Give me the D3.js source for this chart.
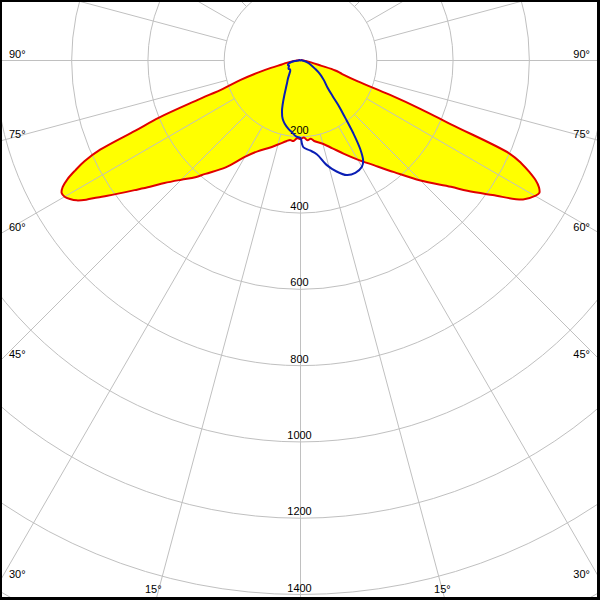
<!DOCTYPE html>
<html><head><meta charset="utf-8">
<script src="https://cdn.jsdelivr.net/npm/d3@7"></script>
<style>html,body{margin:0;padding:0;background:#fff;} svg{display:block;}</style>
</head><body>
<svg id="chart" width="600" height="600"></svg>
<script>
// C0-C180 plane (red outline, yellow fill): gamma angle in degrees (0 = straight down), intensity in cd
const redAngles = [-180,-150,-120,-100,-90,-85,-80,-78,-76,-74,-72,-70,-69,-68,-67,-66,-65,-64,-63,-62,-61,-60,-59,-58,-57,-56,-55,-52,-50,-48,-45,-42,-40,-35,-30,-25,-20,-15,-10,-7.5,-5,-2.5,0,2.5,5,7.5,10,15,20,25,30,35,40,45,50,52,55,58,60,61,62,63,64,65,66,67,68,69,70,72,74,76,80,85,90,100,120,150,180];
const redValues = [0,0,2,5,10,20,40,50,80,118,165,215,290,400,470,575,625,657,686,706,716,714,705,692,670,642,618,552,515,480,442,412,388,342,292,262,244,228,215,210,212,204,206,202,210,207,215,226,245,270,300,335,382,445,515,555,615,688,710,716,708,692,668,640,600,430,340,250,160,115,95,55,28,14,8,5,2,0,0];
// C90-C270 plane (blue outline)
const blueAngles = [-180,-120,-90,-85,-80,-75,-70,-65,-60,-55,-50,-45,-40,-35,-30,-25,-22,-20,-17,-14,-10,-7,-3,0,1,2,6,10,14,18,22,26,30,32,34,36,38,40,42,45,50,55,60,70,80,90,120,180];
const blueValues = [0,2,5,15,25,33,35,33,36,38,36,38,45,57,72,100,125,142,160,171,182,189,200,203,218,228,237,250,282,306,324,328,322,310,280,235,190,158,126,100,80,63,45,25,12,5,2,0];
// grid
const ringValues = [200,400,600,800,1000,1200,1400,1600,1800];
const ringLabels = ["200","400","600","800","1000","1200","1400"];
const spokeAngles = d3.range(0, 360, 15);
const angleLabels = [90,75,60,45,30,15];

const W = 600, H = 600, cx = 300.5, cy = 60.5;
const r = d3.scaleLinear().domain([0, 1400]).range([0, 534]);
const svg = d3.select("#chart");
svg.append("rect").attr("width", W).attr("height", H).attr("fill", "#fff");
const g = svg.append("g").attr("transform", `translate(${cx},${cy})`);
const toA = d => (180 - d) * Math.PI / 180;
const radial = d3.lineRadial().angle(d => toA(d[0])).radius(d => r(d[1])).curve(d3.curveCatmullRomClosed.alpha(0.5));
const redData = redAngles.map((a, i) => [a, redValues[i]]);
const blueData = blueAngles.map((a, i) => [a, blueValues[i]]);

// yellow fill
g.append("path").attr("d", radial(redData)).attr("fill", "#ffff00").attr("stroke", "none");

// rings
g.selectAll("circle.ring").data(ringValues).join("circle")
  .attr("class", "ring").attr("r", d => r(d))
  .attr("fill", "none").attr("stroke", "#c0c0c0").attr("stroke-width", 1);

// spokes
const rad = d => d * Math.PI / 180;
g.selectAll("line.spoke").data(spokeAngles).join("line")
  .attr("class", "spoke")
  .attr("x1", d => Math.sin(rad(d)) * r(200)).attr("y1", d => Math.cos(rad(d)) * r(200))
  .attr("x2", d => Math.sin(rad(d)) * r(2400)).attr("y2", d => Math.cos(rad(d)) * r(2400))
  .attr("stroke", "#c0c0c0").attr("stroke-width", 1);

const font = "'Liberation Sans', Arial, sans-serif";
// intensity labels
g.selectAll("text.rl").data(ringLabels).join("text")
  .attr("class", "rl").attr("x", -1).attr("y", d => r(+d) - 3)
  .attr("text-anchor", "middle").attr("font-family", font).attr("font-size", 11).attr("fill", "#000")
  .text(d => d);

// angle labels (left and right)
angleLabels.forEach(a => {
  const s = Math.sin(rad(a)), c = Math.cos(rad(a));
  const ySide = c * (cx / s);
  if (ySide + cy <= H - 10) {
    svg.append("text").attr("x", 9).attr("y", cy + ySide - 3)
      .attr("font-family", font).attr("font-size", 11).text(a + "°");
    svg.append("text").attr("x", 590).attr("y", cy + ySide - 3).attr("text-anchor", "end")
      .attr("font-family", font).attr("font-size", 11).text(a + "°");
  } else {
    const xb = (s / c) * (H - cy);
    svg.append("text").attr("x", cx - xb - 11).attr("y", 593)
      .attr("font-family", font).attr("font-size", 11).text(a + "°");
    svg.append("text").attr("x", cx + xb - 11).attr("y", 593)
      .attr("font-family", font).attr("font-size", 11).text(a + "°");
  }
});

// curves
g.append("path").attr("d", radial(redData)).attr("fill", "none").attr("stroke", "#e00000").attr("stroke-width", 2).attr("stroke-linejoin", "round");
g.append("path").attr("d", radial(blueData)).attr("fill", "none").attr("stroke", "#0a1eb4").attr("stroke-width", 2).attr("stroke-linejoin", "round");

// border
svg.append("rect").attr("x", 0).attr("y", 0).attr("width", W).attr("height", 2).attr("fill", "#000");
svg.append("rect").attr("x", 0).attr("y", 0).attr("width", 2).attr("height", H).attr("fill", "#000");
svg.append("rect").attr("x", W - 3).attr("y", 0).attr("width", 3).attr("height", H).attr("fill", "#000");
svg.append("rect").attr("x", 0).attr("y", H - 3).attr("width", W).attr("height", 3).attr("fill", "#000");
</script>
</body></html>
